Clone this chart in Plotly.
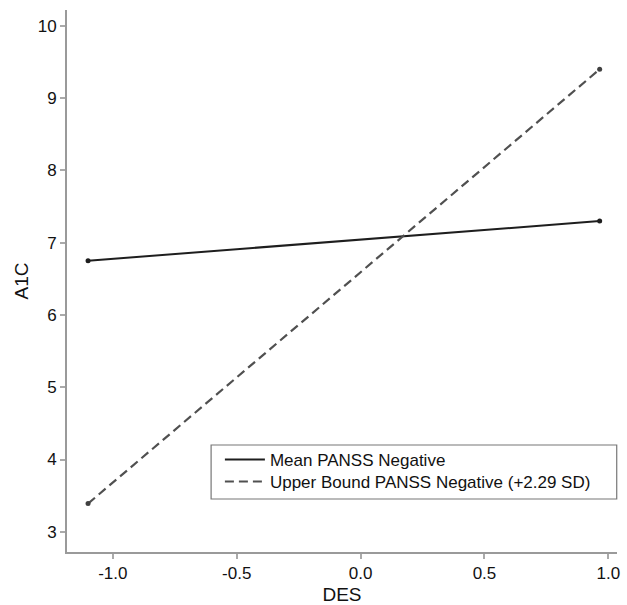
import plotly.graph_objects as go

des = [-1.10, 0.965]
mean_panss = [6.75, 7.30]
upper_panss = [3.39, 9.40]
series_names = ["Mean PANSS Negative", "Upper Bound PANSS Negative (+2.29 SD)"]
x_ticks = [-1.0, -0.5, 0.0, 0.5, 1.0]
x_ticklabels = ["-1.0", "-0.5", "0.0", "0.5", "1.0"]
y_ticks = [3, 4, 5, 6, 7, 8, 9, 10]

FONT = "Liberation Sans, Arial, Helvetica, sans-serif"
SOLID = "#1e1e1e"
DASHED = "#505050"

fig = go.Figure()
# lines (shown in legends)
fig.add_trace(go.Scatter(
    x=des, y=mean_panss, mode="lines", name=series_names[0],
    line=dict(color=SOLID, width=2), legend="legend",
))
fig.add_trace(go.Scatter(
    x=des, y=upper_panss, mode="lines", name=series_names[1],
    line=dict(color=DASHED, width=2.2, dash="9px,5px"), legend="legend2",
))
# end-point dots (not in legend)
fig.add_trace(go.Scatter(
    x=des, y=mean_panss, mode="markers", showlegend=False,
    marker=dict(size=5, color=SOLID), hoverinfo="skip",
))
fig.add_trace(go.Scatter(
    x=des, y=upper_panss, mode="markers", showlegend=False,
    marker=dict(size=5, color="#404040"), hoverinfo="skip",
))

legend_common = dict(
    xanchor="left", yanchor="middle",
    bgcolor="rgba(0,0,0,0)", borderwidth=0,
    font=dict(family=FONT, size=17, color="#111"),
    itemwidth=40,
)

fig.update_layout(
    width=627, height=605,
    margin=dict(l=67, r=10, t=10, b=53, autoexpand=False),
    paper_bgcolor="white", plot_bgcolor="white",
    font=dict(family=FONT, size=17, color="#111"),
    showlegend=True,
    legend=dict(x=0.278, y=0.1697, **legend_common),
    legend2=dict(x=0.278, y=0.1292, **legend_common),
    shapes=[dict(
        type="rect", xref="paper", yref="paper",
        x0=0.262, x1=0.9995, y0=0.0978, y1=0.1974,
        line=dict(color="#777", width=1.2), fillcolor="rgba(0,0,0,0)",
        layer="below",
    )],
)

fig.update_xaxes(
    range=[-1.185, 1.035], tickvals=x_ticks, ticktext=x_ticklabels,
    automargin=True,
    showgrid=False, zeroline=False, showline=True, linecolor="#9a9a9a", linewidth=2,
    ticks="outside", ticklen=5, tickwidth=1.5, tickcolor="#aaa",
    tickfont=dict(size=17, family=FONT, color="#111"),
    title=dict(text="DES", font=dict(size=19, family=FONT, color="#111"), standoff=12),
)
fig.update_yaxes(
    range=[2.72, 10.22], tickvals=y_ticks,
    automargin=True,
    showgrid=False, zeroline=False, showline=True, linecolor="#9a9a9a", linewidth=2,
    ticks="outside", ticklen=5, tickwidth=1.5, tickcolor="#aaa",
    tickfont=dict(size=17, family=FONT, color="#111"),
    title=dict(text="A1C", font=dict(size=19, family=FONT, color="#111"), standoff=4),
)

fig.write_html(
    "out.html",
    config={"displayModeBar": False},
    post_script="document.body.style.margin='0';document.body.style.overflow='hidden';",
)
